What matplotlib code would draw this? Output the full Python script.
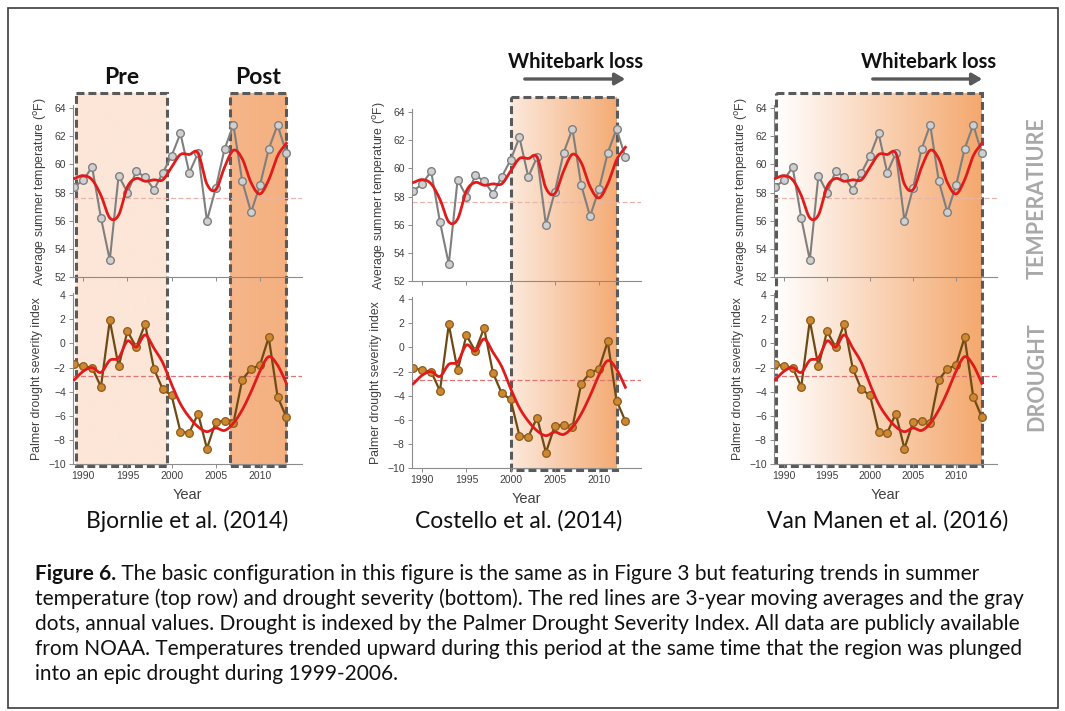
import numpy as np
import matplotlib
matplotlib.use("Agg")
import matplotlib.pyplot as plt
from matplotlib.patches import Rectangle, FancyArrowPatch
from matplotlib.colors import to_rgb

# annual values and 3-year running means
years = np.arange(1989, 2014)
temp = [58.4, 58.9, 59.8, 56.2, 53.2, 59.2, 58.0, 59.5, 59.1, 58.2, 59.4,
        60.6, 62.2, 59.4, 60.8, 56.0, 58.3, 61.1, 62.8, 58.8, 56.6, 58.5,
        61.1, 62.8, 60.8]
temp_avg = [59.0, 59.2, 58.9, 57.8, 56.2, 56.4, 58.4, 59.0, 58.8, 58.9, 58.9,
            59.8, 60.7, 60.7, 60.8, 58.6, 58.2, 59.8, 61.0, 60.4, 58.7, 57.9,
            58.9, 60.6, 61.5]
pdsi = [-1.7, -1.9, -2.0, -3.6, 1.9, -1.9, 1.0, -0.3, 1.6, -2.1, -3.8,
        -4.3, -7.3, -7.4, -5.8, -8.7, -6.5, -6.4, -6.6, -3.0, -2.1, -1.8,
        0.5, -4.4, -6.1]
pdsi_avg = [-3.0, -2.3, -2.0, -2.4, -1.4, -1.2, 0.2, -0.3, 0.7, -0.4, -1.6,
            -3.4, -5.0, -6.1, -6.9, -7.3, -7.0, -7.2, -6.6, -5.5, -4.0, -2.3,
            -1.1, -1.8, -3.3]
temp_mean = 57.6
pdsi_mean = -2.7

studies = ["Bjornlie et al. (2014)", "Costello et al. (2014)", "Van Manen et al. (2016)"]
# shaded periods per study: (start, end, left colour, right colour)
periods = [
    [(1989.2, 1999.5, "#fce6d8", "#fce6d8"), (2006.6, 2013.0, "#f6b689", "#f4b080")],
    [(2000.0, 2012.0, "#fce9dc", "#f4ab74")],
    [(1989.1, 2013.0, "#ffffff", "#f4a86e")],
]
period_labels = [["Pre", "Post"], None, None]

caption_bold = "Figure 6."
caption = [
    " The basic configuration in this figure is the same as in Figure 3 but featuring trends in summer",
    "temperature (top row) and drought severity (bottom). The red lines are 3-year moving averages and the gray",
    "dots, annual values. Drought is indexed by the Palmer Drought Severity Index. All data are publicly available",
    "from NOAA. Temperatures trended upward during this period at the same time that the region was plunged",
    "into an epic drought during 1999-2006.",
]

W, H = 1065, 711
fig = plt.figure(figsize=(W / 100, H / 100), dpi=100)
plt.rcParams["font.family"] = ["Liberation Sans", "DejaVu Sans"]
title_font = ["Lato", "DejaVu Sans"]

bg = fig.add_axes([0, 0, 1, 1])
bg.set_zorder(0)
bg.axis("off")


def box(x0, y0, x1, y1):
    # pixel box (top-left origin) -> figure fraction rect
    return [x0 / W, 1 - y1 / H, (x1 - x0) / W, (y1 - y0) / H]


def smooth(x, y, n=12):
    # Catmull-Rom curve through the running means
    x = np.asarray(x, float)
    y = np.asarray(y, float)
    xp = np.concatenate([[2 * x[0] - x[1]], x, [2 * x[-1] - x[-2]]])
    yp = np.concatenate([[2 * y[0] - y[1]], y, [2 * y[-1] - y[-2]]])
    t = np.linspace(0, 1, n, endpoint=False)
    xs, ys = [], []
    for i in range(1, len(xp) - 2):
        p0, p1, p2, p3 = yp[i - 1:i + 3]
        ys.append(0.5 * (2 * p1 + (-p0 + p2) * t + (2 * p0 - 5 * p1 + 4 * p2 - p3) * t ** 2
                         + (-p0 + 3 * p1 - 3 * p2 + p3) * t ** 3))
        xs.append(xp[i] + (xp[i + 1] - xp[i]) * t)
    xs.append([x[-1]])
    ys.append([y[-1]])
    return np.concatenate(xs), np.concatenate(ys)


def style(ax):
    for s in ["top", "right"]:
        ax.spines[s].set_visible(False)
    for s in ["left", "bottom"]:
        ax.spines[s].set_color("#8c8c8c")
        ax.spines[s].set_linewidth(0.8)
    ax.tick_params(colors="#8c8c8c", labelcolor="#404040", labelsize=7.5, length=3, width=0.7, pad=2)
    ax.set_facecolor("none")


xlo, xhi = 1988.8, 2014.8
# x of axis origin, pixels per year, vertical shift, title centre
layout = [(72.7, 8.83, 0, 187), (411.7, 8.83, 4, 519), (773.7, 8.6, 0, 888)]

tx, ty = smooth(years, temp_avg)
dx, dy_ = smooth(years, pdsi_avg)

for k, (x0, ppy, dy, tc) in enumerate(layout):
    width = (xhi - xlo) * ppy

    # shaded periods with dashed outline
    for j, (a, b, c0, c1) in enumerate(periods[k]):
        px0 = x0 + (a - xlo) * ppy
        px1 = x0 + (b - xlo) * ppy
        top, bot = 93 + dy, 466 + dy
        grad = np.linspace(np.array(to_rgb(c0)), np.array(to_rgb(c1)), 256)[None, :, :]
        grad = np.repeat(grad, 2, axis=0)
        bg.imshow(grad, extent=[px0, px1, bot, top], aspect="auto", zorder=0.5)
        bg.add_patch(Rectangle((px0, top), px1 - px0, bot - top, fill=False,
                               ec="#5a5a5a", lw=2.2, ls=(0, (2.6, 1.3)), zorder=1))
        if period_labels[k]:
            bg.text((px0 + px1) / 2, 77, period_labels[k][j], ha="center", va="center",
                    fontsize=16.5, weight="bold", family=title_font, color="#111111")

    if period_labels[k] is None:
        if k == 1:
            ax0, ax1 = 522, 628
        else:
            ax0, ax1 = 870, 985
        bg.add_patch(FancyArrowPatch((ax0, 79), (ax1, 79), arrowstyle="-|>,head_length=6,head_width=3.5",
                                     color="#595959", lw=2.4, mutation_scale=1, zorder=2))
        bg.text((ax0 + ax1) / 2 + 1, 62, "Whitebark loss", ha="center", va="center",
                fontsize=14.5, weight="bold", family=title_font, color="#111111")

    # temperature panel
    t_top = 277 + dy - 12.2 * 14.08
    at = fig.add_axes(box(x0, t_top, x0 + width, 277 + dy))
    at.set_zorder(1)
    style(at)
    at.axhline(temp_mean, color="#e9b4aa", lw=0.9, ls=(0, (4, 2)), zorder=1)
    at.plot(years, temp, color="#7f7f7f", lw=1.5, marker="o", ms=5.5,
            mfc="#d0d0d0", mec="#7f7f7f", mew=1.0, zorder=2)
    at.plot(tx, ty, color="#e01b1b", lw=2.0, zorder=3)
    at.set_xlim(xlo, xhi)
    at.set_ylim(52, 64.2)
    at.set_yticks(np.arange(52, 65, 2))
    at.set_xticks(np.arange(1990, 2011, 5))
    at.set_xticklabels([])
    at.set_ylabel("Average summer temperature ($^{\\rm o}$F)", fontsize=8.8, color="#404040", labelpad=4)

    # drought panel
    d_top = 464.3 + dy - 14.2 * 12.09
    ad = fig.add_axes(box(x0, d_top, x0 + width, 464.3 + dy))
    ad.set_zorder(1)
    style(ad)
    ad.axhline(pdsi_mean, color="#e07575", lw=0.9, ls=(0, (4, 2)), zorder=1)
    ad.plot(years, pdsi, color="#6e4a14", lw=1.6, marker="o", ms=5.5,
            mfc="#cf8832", mec="#8a5a1c", mew=0.9, zorder=2)
    ad.plot(dx, dy_, color="#e01b1b", lw=2.0, zorder=3)
    ad.set_xlim(xlo, xhi)
    ad.set_ylim(-10, 4.2)
    ad.set_yticks(np.arange(-10, 5, 2))
    ad.set_xticks(np.arange(1990, 2011, 5))
    ad.set_ylabel("Palmer drought severity index", fontsize=8.8, color="#404040", labelpad=4)
    ad.set_xlabel("Year", fontsize=10.5, color="#404040", labelpad=5)

    bg.text(tc, 521, studies[k], ha="center", va="center", fontsize=16.5,
            family=title_font, color="#111111")

# row labels on the right
bg.text(1037, 198, "TEMPERATIURE", rotation=90, ha="center", va="center", fontsize=15.5,
        weight="bold", family=title_font, color="#a8a8a8")
bg.text(1037, 377, "DROUGHT", rotation=90, ha="center", va="center", fontsize=15.5,
        weight="bold", family=title_font, color="#a8a8a8")

# caption, sized so the longest line fills the text width
cap_font = title_font
cap_y = [574, 599, 624, 649, 674]
fig.canvas.draw()
r = fig.canvas.get_renderer()
probe = bg.text(0, 0, caption[1], fontsize=12, family=cap_font)
fs = 12 * 985 / probe.get_window_extent(r).width
probe.remove()

b = bg.text(35, cap_y[0], caption_bold, ha="left", va="center", fontsize=fs,
            weight="bold", family=cap_font, color="#111111")
bw = b.get_window_extent(r).width
bg.text(35 + bw, cap_y[0], caption[0], ha="left", va="center", fontsize=fs,
        family=cap_font, color="#111111")
for line, y in zip(caption[1:], cap_y[1:]):
    bg.text(35, y, line, ha="left", va="center", fontsize=fs, family=cap_font, color="#111111")

# outer frame
bg.add_patch(Rectangle((8, 8), 1050, 700, fill=False, ec="#3c3c3c", lw=1.2, zorder=5))

bg.set_xlim(0, W)
bg.set_ylim(H, 0)

fig.savefig("out.png", dpi=100)
